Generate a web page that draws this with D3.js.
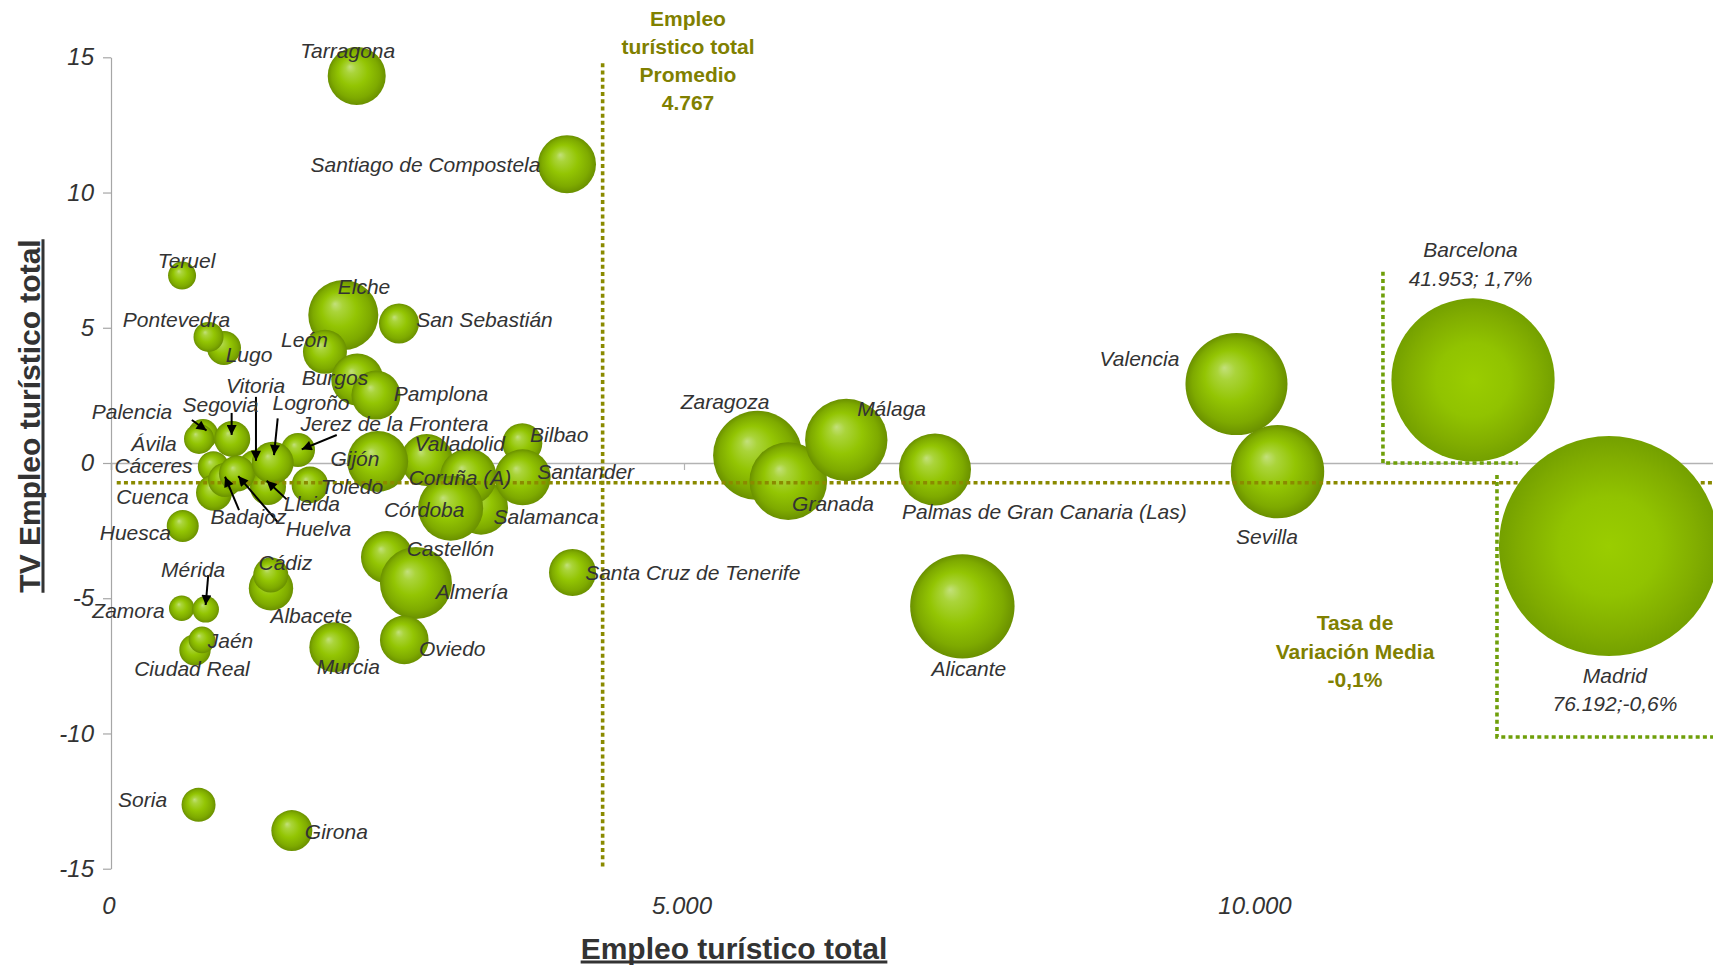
<!DOCTYPE html>
<html>
<head>
<meta charset="utf-8">
<script src="https://cdn.jsdelivr.net/npm/d3@7"></script>
<style>
  html, body { margin: 0; padding: 0; background: #fff; }
  svg { display: block; }
  text { font-family: "Liberation Sans", Arial, Helvetica, sans-serif; }
</style>
</head>
<body>
<svg id="chart" width="1713" height="966"></svg>
<script>
// ---------------- DATA ----------------
// Ciudades (orden de dibujo)
const ciudades = ["Teruel","Tarragona","Santiago de Compostela","Elche","León","San Sebastián","Lugo","Pontevedra","Burgos","Pamplona",
  "Palencia","Ávila","Segovia","Cáceres","Cuenca","Jerez de la Frontera","Vitoria","Lleida","Badajoz","Huelva","Logroño","Toledo",
  "Valladolid","Gijón","Salamanca","Coruña (A)","Córdoba","Bilbao","Santander","Huesca","Albacete","Cádiz","Castellón","Almería",
  "Santa Cruz de Tenerife","Zamora","Mérida","Ciudad Real","Jaén","Murcia","Oviedo","Soria","Girona","Zaragoza","Granada","Málaga",
  "Palmas de Gran Canaria (Las)","Alicante","Valencia","Sevilla"];
// Empleo turístico total (eje X)
const empleoTotal = [620,2144,3979,2027,1867,2513,986,851,2149,2312,
  803,768,1058,893,899,1632,1265,1370,995,1099,1411,1736,
  2755,2327,3229,3118,2964,3589,3592,626,1396,1394,2408,2661,
  4027,617,826,733,794,1949,2559,764,1578,5643,5910,6416,
  7190,7429,9821,10179];
// TV Empleo turístico total (%) (eje Y)
const tvEmpleo = [6.93,14.31,11.05,5.47,4.11,5.16,4.25,4.66,3.09,2.51,
  1.07,0.89,0.89,-0.14,-1.10,0.48,-0.18,-0.89,-0.63,-0.39,0.01,-0.81,
  0.11,0.06,-1.65,-0.51,-1.67,0.73,-0.53,-2.33,-4.63,-4.14,-3.48,-4.44,
  -4.05,-5.37,-5.41,-6.91,-6.54,-6.81,-6.54,-12.64,-13.59,0.28,-0.67,0.85,
  -0.24,-5.30,2.92,-0.32];
// Tamaño de burbuja (estimado)
const tamanoBurbuja = [1234,5296,5296,7714,3048,2519,1820,1417,4257,3780,
  1417,1417,2040,1513,2040,1820,2040,2040,1820,2040,2777,2109,
  4257,5858,4591,5043,6651,2519,4937,1612,3103,1928,4257,8161,
  3478,1016,1114,1552,1114,3936,3718,1820,2646,12526,9480,10689,
  8161,17158,16378,13733];

// Grandes ciudades (fuera de escala, situadas en el extremo del eje)
const grandesCiudades = ["Barcelona","Madrid"];
const grandesEmpleo = [41953, 76192];
const grandesTV = [1.7, -0.6];
const grandesPosX = [11885, 13071];   // posición sobre el eje truncado
const grandesPosY = [3.07, -3.07];

// Referencias
const promedioEmpleo = 4767;
const promedioLineaX = 4290;
const tasaMedia = -0.1;
const tasaLineaY = -0.73;

// Ejes
const yTicks = [15, 10, 5, 0, -5, -10, -15];
const xTicks = [0, 5000, 10000];
const xTitulo = "Empleo turístico total";
const yTitulo = "TV Empleo turístico total";

// ---------------- LAYOUT ----------------
const W = 1713, H = 966;
const x = d3.scaleLinear().domain([0, 14000]).range([111, 111 + 14000 * 0.1146]);
const y = d3.scaleLinear().domain([-15, 15]).range([868.7, 57.3]);
const rScale = d3.scaleSqrt().domain([0, 76192]).range([0, 110]);

// label offsets (px, relative to bubble centre), text-anchor middle
const labelOff = {
  "Tarragona":[-9,-25],"Santiago de Compostela":[-141.5,1],"Teruel":[4.5,-15],"Elche":[20.7,-28.3],
  "San Sebastián":[85.5,-3.3],"Pontevedra":[-32,-17],"Lugo":[25,7],"León":[-20.5,-11.7],"Burgos":[-22.3,-2],
  "Pamplona":[65,-1],"Palencia":[-71,-22.3],"Ávila":[-45,5],"Segovia":[-11.8,-34],"Cáceres":[-59.8,-0.7],
  "Cuenca":[-61.5,3.8],"Badajoz":[23.5,37],"Huelva":[81.5,55.5],"Vitoria":[-0.4,-82],"Lleida":[44,17],
  "Logroño":[38.3,-59.7],"Jerez de la Frontera":[96.4,-26],"Toledo":[42,2],"Gijón":[-22.7,-2.3],
  "Valladolid":[33,-16.5],"Coruña (A)":[-8.3,1.3],"Córdoba":[-26.5,1.7],"Salamanca":[65,9.5],"Bilbao":[37,-8.3],
  "Santander":[63,-5.3],"Huesca":[-47.4,6.5],"Cádiz":[14.6,-12],"Albacete":[40.3,27.2],"Castellón":[63.5,-8],
  "Almería":[56,9],"Santa Cruz de Tenerife":[120.3,0.5],"Zamora":[-53.2,2.2],"Mérida":[-12.5,-39.8],
  "Jaén":[28.5,0.7],"Ciudad Real":[-3,19],"Murcia":[14,19.4],"Oviedo":[48,9],"Soria":[-56,-5],"Girona":[44.5,1],
  "Zaragoza":[-32.7,-53.3],"Granada":[44.7,22.8],"Málaga":[45.3,-31],"Palmas de Gran Canaria (Las)":[109.4,41.8],
  "Alicante":[6.6,62.7],"Valencia":[-97,-25.7],"Sevilla":[-10.5,65.3]
};
// arrows: [tailDx, tailDy, tipDx, tipDy] relative to bubble centre
const arrowOff = {
  "Palencia":[-11.2,-14,3.5,-3.5],"Segovia":[-0.6,-26,-0.6,-4],"Vitoria":[0,-71,0,-7],
  "Logroño":[5,-44.4,1.3,-7.7],"Jerez de la Frontera":[38.7,-15,3.7,-0.7],"Badajoz":[14,30,0,-3.3],
  "Huelva":[41.3,49.2,1.3,2.5],"Lleida":[18.7,12.3,-1.3,-6.3],"Mérida":[2.6,-34.3,0,-4.3]
};
const grandesLabelOff = {"Barcelona":[-2.5,-130.5,-101],"Madrid":[6,129.5,157.5]};

const svg = d3.select("#chart");
const defs = svg.append("defs");

const g1 = defs.append("radialGradient").attr("id","ball")
  .attr("cx","0.5").attr("cy","0.5").attr("r","0.5").attr("fx","0.38").attr("fy","0.34");
[["0%","#c3e07c"],["18%","#aad43a"],["50%","#93c503"],["82%","#7eaa00"],["100%","#6a9000"]]
  .forEach(s => g1.append("stop").attr("offset", s[0]).attr("stop-color", s[1]));
const g2 = defs.append("radialGradient").attr("id","ballBig")
  .attr("cx","0.5").attr("cy","0.5").attr("r","0.5").attr("fx","0.5").attr("fy","0.5");
[["0%","#9acd00"],["45%","#91c300"],["80%","#81ad00"],["100%","#74a000"]]
  .forEach(s => g2.append("stop").attr("offset", s[0]).attr("stop-color", s[1]));
defs.append("marker").attr("id","arrowhead").attr("viewBox","0 0 10 10")
  .attr("refX",10).attr("refY",5).attr("markerWidth",6).attr("markerHeight",5)
  .attr("markerUnits","strokeWidth").attr("orient","auto")
  .append("path").attr("d","M0,0 L10,5 L0,10 Z").attr("fill","#000");

const data = ciudades.map((c,i)=>({name:c, xv:empleoTotal[i], yv:tvEmpleo[i], s:tamanoBurbuja[i]}));
const grandes = grandesCiudades.map((c,i)=>({name:c, emp:grandesEmpleo[i], tv:grandesTV[i], xv:grandesPosX[i], yv:grandesPosY[i], s:grandesEmpleo[i]}));

const hyph = s => s.replace(/\u2212/g, "-");
const fmtNum = v => v === 0 ? "0" : d3.format(",")(v).replace(/,/g, ".");
const fmtPct = v => hyph(d3.format(".1f")(v)).replace(".", ",") + "%";

// ---- axes ----
const olive = "#808000";
const boxGreen = "#6f9f0a";
const xAxisG = svg.append("g").attr("transform", `translate(0,${y(0)})`)
  .call(d3.axisBottom(x).tickValues(xTicks).tickSize(7).tickFormat(""));
xAxisG.select(".domain").attr("stroke","#b3b3b3").attr("stroke-width",1.6);
xAxisG.selectAll(".tick line").attr("stroke","#b3b3b3").attr("stroke-width",1.2);

const yAxisG = svg.append("g").attr("transform", `translate(${x(0)},0)`)
  .call(d3.axisLeft(y).tickValues(yTicks).tickSize(8).tickSizeOuter(0).tickPadding(9)
    .tickFormat(d => hyph(d3.format("d")(d))));
yAxisG.select(".domain").attr("stroke","#a6a6a6").attr("stroke-width",1.2);
yAxisG.selectAll(".tick line").attr("stroke","#a6a6a6").attr("stroke-width",1.2);
yAxisG.selectAll(".tick text").attr("font-size",24).attr("font-style","italic").attr("fill","#333")
  .attr("font-family","'Liberation Sans', Arial, sans-serif");

// x tick labels (low position)
svg.append("g").selectAll("text").data(xTicks).join("text")
  .attr("x", d => x(d) - 2).attr("y", 906).attr("dy","0.35em")
  .attr("text-anchor","middle").attr("font-size",24).attr("font-style","italic").attr("fill","#333")
  .text(fmtNum);

// ---- bubbles ----
const bub = svg.append("g");
bub.selectAll("circle").data(data).join("circle")
  .attr("cx", d => x(d.xv)).attr("cy", d => y(d.yv)).attr("r", d => rScale(d.s))
  .attr("fill","url(#ball)");

// ---- reference lines (over small bubbles) ----
const ref = svg.append("g").attr("fill","none").attr("stroke-dasharray","4,3.2").attr("stroke-width",3.6);
ref.append("line").attr("x1", x(promedioLineaX)).attr("x2", x(promedioLineaX))
  .attr("y1", y(14.78)).attr("y2", y(-15)).attr("stroke", "#8a8a00");
ref.append("line").attr("x1", x(50)).attr("x2", W)
  .attr("y1", y(tasaLineaY)).attr("y2", y(tasaLineaY)).attr("stroke", "#8a8a00");
ref.append("path").attr("stroke", boxGreen)
  .attr("d", `M${x(11099)},${y(7.07)} L${x(11099)},${y(0)} L${x(12277)},${y(0)}`);
ref.append("path").attr("stroke", boxGreen)
  .attr("d", `M${x(12094)},${y(-0.44)} L${x(12094)},${y(-10.13)} L${W},${y(-10.13)}`);

// ---- big bubbles ----
svg.append("g").selectAll("circle").data(grandes).join("circle")
  .attr("cx", d => x(d.xv)).attr("cy", d => y(d.yv)).attr("r", d => rScale(d.s))
  .attr("fill","url(#ballBig)");

// ---- arrows ----
svg.append("g").selectAll("line").data(data.filter(d => arrowOff[d.name])).join("line")
  .attr("x1", d => x(d.xv) + arrowOff[d.name][0]).attr("y1", d => y(d.yv) + arrowOff[d.name][1])
  .attr("x2", d => x(d.xv) + arrowOff[d.name][2]).attr("y2", d => y(d.yv) + arrowOff[d.name][3])
  .attr("stroke","#000").attr("stroke-width",2).attr("marker-end","url(#arrowhead)");

// ---- labels ----
svg.append("g").selectAll("text").data(data).join("text")
  .attr("x", d => x(d.xv) + labelOff[d.name][0]).attr("y", d => y(d.yv) + labelOff[d.name][1])
  .attr("dy","0.35em").attr("text-anchor","middle")
  .attr("font-size",21).attr("font-style","italic").attr("fill","#333")
  .text(d => d.name);

const gl = svg.append("g").selectAll("g").data(grandes).join("g");
gl.append("text").attr("x", d => x(d.xv) + grandesLabelOff[d.name][0]).attr("y", d => y(d.yv) + grandesLabelOff[d.name][1])
  .attr("dy","0.35em").attr("text-anchor","middle").attr("font-size",21).attr("font-style","italic").attr("fill","#333")
  .text(d => d.name);
gl.append("text").attr("x", d => x(d.xv) + grandesLabelOff[d.name][0]).attr("y", d => y(d.yv) + grandesLabelOff[d.name][2])
  .attr("dy","0.35em").attr("text-anchor","middle").attr("font-size",21).attr("font-style","italic").attr("fill","#333")
  .text(d => d.name === "Barcelona" ? `${fmtNum(d.emp)}; ${fmtPct(d.tv)}` : `${fmtNum(d.emp)};${fmtPct(d.tv)}`);

// ---- annotations ----
const promLines = ["Empleo", "turístico total", "Promedio", fmtNum(promedioEmpleo)];
svg.append("g").selectAll("text").data(promLines).join("text")
  .attr("x", 688).attr("y", (d,i) => 18.5 + i * 28.2).attr("dy","0.35em")
  .attr("text-anchor","middle").attr("font-size",21).attr("font-weight","bold").attr("fill", olive)
  .text(d => d);
const tasaLines = ["Tasa de", "Variación Media", fmtPct(tasaMedia)];
svg.append("g").selectAll("text").data(tasaLines).join("text")
  .attr("x", 1355).attr("y", (d,i) => 623 + i * 28.5).attr("dy","0.35em")
  .attr("text-anchor","middle").attr("font-size",21).attr("font-weight","bold").attr("fill", olive)
  .text(d => d);

// ---- axis titles ----
const xt = svg.append("text").attr("x", 734).attr("y", 948).attr("dy","0.35em")
  .attr("text-anchor","middle").attr("font-size",30).attr("font-weight","bold").attr("fill","#333")
  .text(xTitulo);
const xb = xt.node().getBBox();
svg.append("line").attr("x1", xb.x).attr("x2", xb.x + xb.width).attr("y1", 962).attr("y2", 962)
  .attr("stroke","#333").attr("stroke-width",3);

const yt = svg.append("text").attr("transform","translate(29,416) rotate(-90)").attr("dy","0.35em")
  .attr("text-anchor","middle").attr("font-size",30).attr("font-weight","bold").attr("fill","#333")
  .text(yTitulo);
const yb = yt.node().getBBox();
svg.append("line").attr("x1", 43).attr("x2", 43).attr("y1", 416 - yb.width/2).attr("y2", 416 + yb.width/2)
  .attr("stroke","#333").attr("stroke-width",3);
</script>
</body>
</html>
